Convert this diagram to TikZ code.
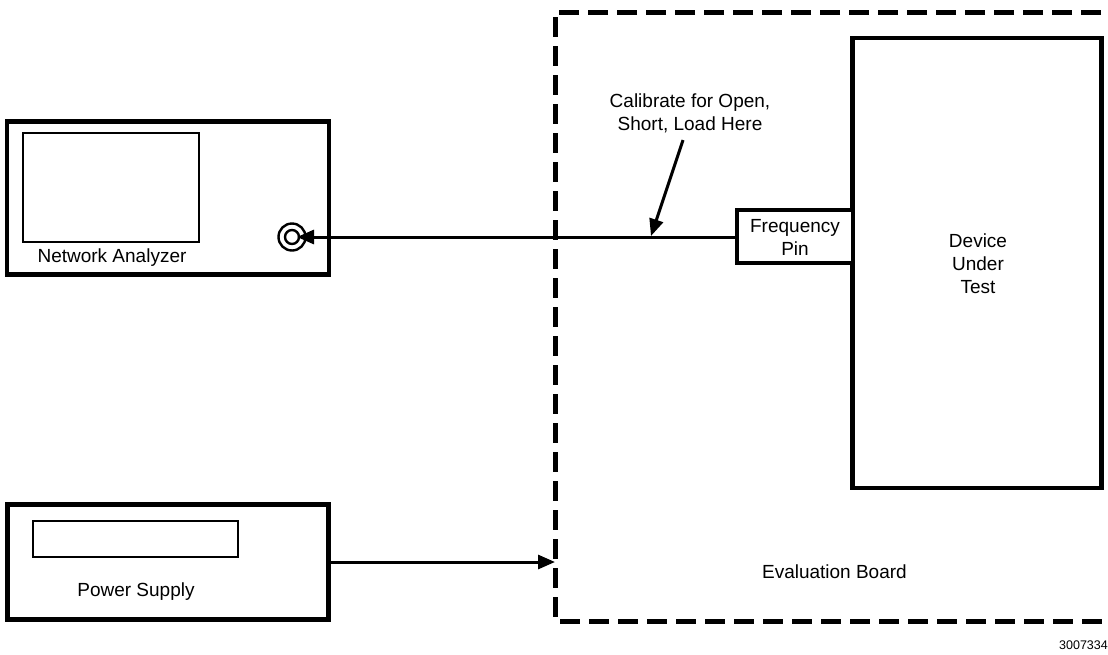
\documentclass[tikz,border=0pt]{standalone}
\usepackage{fontspec}
\setmainfont{Liberation Sans}
\usetikzlibrary{arrows.meta}
\begin{document}
\begin{tikzpicture}[x=1pt,y=-1pt,
  box/.style={draw,line width=4.2pt,inner sep=0pt},
  thinbox/.style={draw,line width=2pt,inner sep=0pt},
  lbl/.style={font=\fontsize{19}{23}\selectfont,align=center,inner sep=0pt},
  wire/.style={line width=3pt},
  tip/.style={-{Triangle[length=17pt,width=14pt]}},
  board/.style={line width=5pt,dash pattern=on 20pt off 9pt}]
\useasboundingbox (0,0) rectangle (1108,654);
\clip (0,0) rectangle (1108,654);
% evaluation board (dashed)
\draw[board] (1130,12) -- (555,12) -- (555,621) -- (1130,621);
\coordinate (bin) at (555,562);
% network analyzer
\node[box,minimum width=322pt,minimum height=153pt] (na) at (168,198) {};
\node[thinbox,minimum width=176pt,minimum height=109pt] (scr) at (111,187.5) {};
\node[lbl] (nalbl) at (112,258) {Network Analyzer};
\draw[line width=2.4pt] (292,237) circle (13.5pt);
\node[circle,draw,line width=2.4pt,minimum size=14pt,inner sep=0pt] (port) at (292,237) {};
\coordinate (porttip) at (297,237);
% power supply
\node[box,minimum width=321pt,minimum height=115pt] (ps) at (168,562) {};
\node[thinbox,minimum width=205pt,minimum height=36pt] (disp) at (135.5,539) {};
\node[lbl] (pslbl) at (136,592) {Power Supply};
% device under test
\node[box,minimum width=249pt,minimum height=450pt] (dut) at (977,263) {};
\node[lbl] (dutlbl) at (978,264) {Device\\Under\\Test};
% frequency pin
\node[box,minimum width=116pt,minimum height=53pt,fill=white] (fp) at (795,236.5) {};
\node[lbl] (fplbl) at (795,237.5) {Frequency\\Pin};
% connectors
\draw[wire,tip] (fp.west |- porttip) -- (porttip);
\draw[wire,tip] (ps.east) -- (bin);
\node[lbl] (cal) at (690,113.5) {Calibrate for Open,\\Short, Load Here};
\coordinate (calstart) at (683,140);
\coordinate (caltip) at (651,236);
\draw[wire,tip] (calstart) -- (caltip);
\node[lbl,anchor=base east] (eb) at (907,578) {Evaluation Board};
\node[font=\fontsize{12.5}{14}\selectfont,anchor=base east,inner sep=0pt] (num) at (1108,649) {3007334};
\end{tikzpicture}
\end{document}
